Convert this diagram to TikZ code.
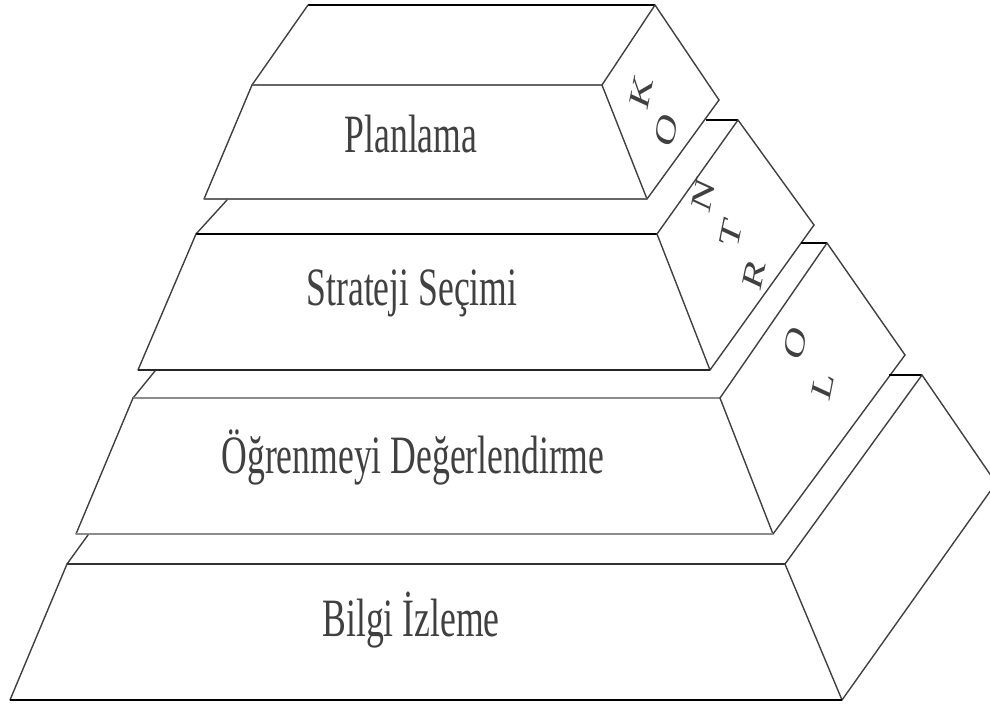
\documentclass[tikz,border=0pt]{standalone}
\usepackage{fontspec}
\setmainfont{Liberation Serif}

\tikzset{
	hz/.style={draw, line width=2.2pt},
	sl/.style={draw=black!75, line width=1.4pt, line cap=round},
	lbl/.style={font=\fontsize{54}{60}\selectfont, text=black!75, xscale=0.66, anchor=base, inner sep=0pt},
	ltr/.style={font=\fontsize{44}{50}\selectfont, text=black!75, xscale=0.66, rotate=73, inner sep=0pt}
}

\begin{document}
\begin{tikzpicture}[x=1pt, y=-1pt]

\clip (0,0) rectangle (990,707);

% level 1
\coordinate (p0l) at (308,5);
\coordinate (p0r) at (655,5);
\coordinate (p1tl) at (252,85);
\coordinate (p1tr) at (602,85);
\coordinate (p1bl) at (204,199);
\coordinate (p1br) at (647,199);
\coordinate (k1) at (719,100);

% level 2
\coordinate (s2) at (227,200);
\coordinate (p2tl) at (196,234);
\coordinate (p2tr) at (657,234);
\coordinate (p2bl) at (138,370);
\coordinate (p2br) at (710,370);
\coordinate (q2a) at (706,120);
\coordinate (q2t) at (738,120);
\coordinate (q2r) at (814,225);

% level 3
\coordinate (s3) at (155,371);
\coordinate (p3tl) at (133,398);
\coordinate (p3tr) at (720,398);
\coordinate (p3bl) at (76,534);
\coordinate (p3br) at (773,534);
\coordinate (q3a) at (801,243);
\coordinate (q3t) at (827,243);
\coordinate (q3r) at (905,355);

% level 4
\coordinate (s4) at (88,535);
\coordinate (p4tl) at (67,564);
\coordinate (p4tr) at (785,564);
\coordinate (p4bl) at (10,700);
\coordinate (p4br) at (842,700);
\coordinate (q4a) at (889,375);
\coordinate (q4t) at (922,375);
\coordinate (q4r) at (996,483);

\path (p0l) edge [hz] (p0r);
\path (p0l) edge [sl] (p1tl);
\path (p0r) edge [sl] (p1tr);
\path (p0r) edge [sl] (k1);
\path (k1) edge [sl] (p1br);
\path (p1tl) edge [hz, draw=black!60] (p1tr);
\path (p1tl) edge [sl] (p1bl);
\path (p1tr) edge [sl] (p1br);
\path (p1bl) edge [hz, draw=black!60] (p1br);

\path (s2) edge [sl] (p2tl);
\path (q2a) edge [hz] (q2t);
\path (p2tl) edge [hz] (p2tr);
\path (p2tr) edge [sl] (q2t);
\path (q2t) edge [sl] (q2r);
\path (q2r) edge [sl] (p2br);
\path (p2tl) edge [sl] (p2bl);
\path (p2tr) edge [sl] (p2br);
\path (p2bl) edge [hz, draw=black!85] (p2br);

\path (s3) edge [sl] (p3tl);
\path (q3a) edge [hz] (q3t);
\path (p3tl) edge [hz, draw=black!45] (p3tr);
\path (p3tr) edge [sl] (q3t);
\path (q3t) edge [sl] (q3r);
\path (q3r) edge [sl] (p3br);
\path (p3tl) edge [sl] (p3bl);
\path (p3tr) edge [sl] (p3br);
\path (p3bl) edge [hz, draw=black!45] (p3br);

\path (s4) edge [sl] (p4tl);
\path (q4a) edge [hz] (q4t);
\path (p4tl) edge [hz, draw=black!80] (p4tr);
\path (p4tr) edge [sl] (q4t);
\path (q4t) edge [sl] (q4r);
\path (q4r) edge [sl] (p4br);
\path (p4tl) edge [sl] (p4bl);
\path (p4tr) edge [sl] (p4br);
\path (p4bl) edge [hz] (p4br);

\node (plan) [lbl] at (411,152) {Planlama};
\node (strat) [lbl] at (412,305) {Strateji Seçimi};
\node (ogren) [lbl] at (413,473) {Öğrenmeyi Değerlendirme};
\node (bilgi) [lbl] at (411,636) {Bilgi İzleme};

\node (k) [ltr] at (641,92) {K};
\node (o1) [ltr] at (666,130) {O};
\node (n) [ltr] at (703,195) {N};
\node (t) [ltr] at (731,233) {T};
\node (r) [ltr] at (754,274) {R};
\node (o2) [ltr] at (795,343) {O};
\node (l) [ltr] at (823,385) {L};

\end{tikzpicture}
\end{document}
